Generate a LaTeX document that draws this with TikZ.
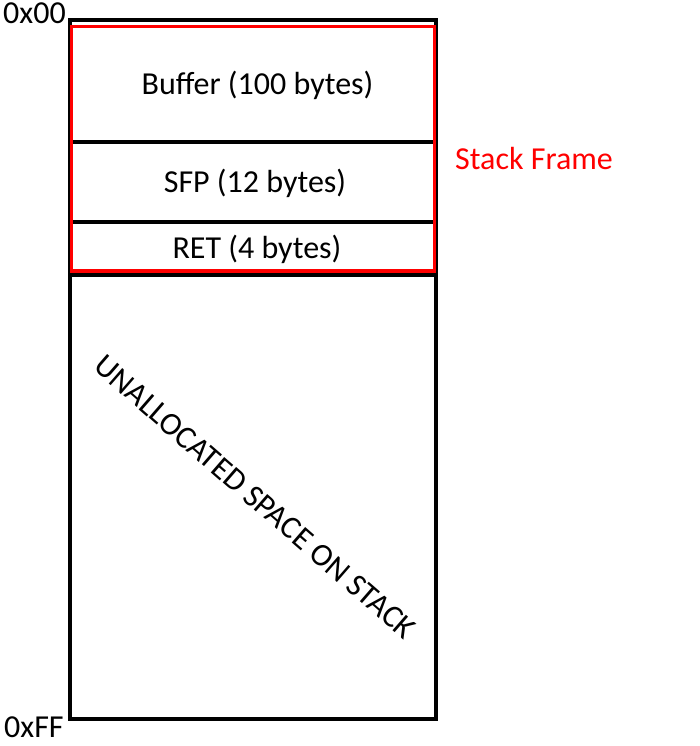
\documentclass[tikz,border=0pt]{standalone}
\usepackage{fontspec}
\setmainfont{Carlito}
\begin{document}
\begin{tikzpicture}[x=1pt,y=-1pt,
  lbl/.style={inner sep=0pt,font=\fontsize{32}{38}\selectfont},
  blk/.style={draw=black,line width=4pt},
  redbox/.style={draw=red,line width=3.5pt}]
\useasboundingbox (0,0) rectangle (700,746);
% outer stack box
\draw[blk] (70,20) rectangle (436,719);
\draw[blk] (70,142) -- (436,142);
\draw[blk] (70,222) -- (436,222);
\draw[blk] (70,275) -- (436,275);
% stack frame outline
\draw[redbox] (71.5,26.5) rectangle (434.5,271);
% labels
\node[lbl,anchor=base] (buf) at (257.5,95) {Buffer (100 bytes)};
\node[lbl,anchor=base] (sfp) at (255,193) {SFP (12 bytes)};
\node[lbl,anchor=base] (ret) at (257,258) {RET (4 bytes)};
\node[lbl,anchor=base west,text=red] (sf) at (455,170) {Stack Frame};
\node[lbl,anchor=base west] (top) at (3,24) {0x00};
\node[lbl,anchor=base west] (bot) at (4,737) {0xFF};
\node[lbl,rotate=-41] (un) at (255,497) {UNALLOCATED SPACE ON STACK};
\end{tikzpicture}
\end{document}
